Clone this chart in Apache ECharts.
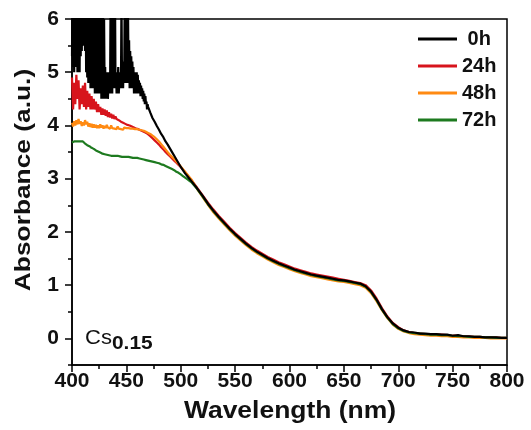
<!DOCTYPE html>
<html><head><meta charset="utf-8">
<script src="https://cdn.jsdelivr.net/npm/echarts@6/dist/echarts.min.js"></script>
<style>html,body{margin:0;padding:0;background:#fff}#c{width:531px;height:430px}</style>
</head><body><div id="c"></div>
<script>
// ---- data ----
const seriesNames = ['0h', '24h', '48h', '72h'];
const yTickLabels = [0, 1, 2, 3, 4, 5, 6];
const yMinorTicks = [-0.5, 0.5, 1.5, 2.5, 3.5, 4.5, 5.5];

const wavelengthFine = [400,401,402,403,404,405,406,407,408,409,
  410,411,412,413,414,415,416,417,418,419,
  420,421,422,423,424,425,426,427,428,429,
  430,431,432,433,434,435,436,437,438,439,
  440,441,442,443,444,445,446,447,448,449,
  450,451,452,453,454,455,456,457,458,459,
  460,461,462,463,464,465,466,467,468,469,
  470];
// the 0h spectrum is sampled every 0.5 nm in its noisy part
const wavelength0hFine = [400,400.5,401,401.5,402,402.5,403,403.5,404,404.5,
  405,405.5,406,406.5,407,407.5,408,408.5,409,409.5,
  410,410.5,411,411.5,412,412.5,413,413.5,414,414.5,
  415,415.5,416,416.5,417,417.5,418,418.5,419,419.5,
  420,420.5,421,421.5,422,422.5,423,423.5,424,424.5,
  425,425.5,426,426.5,427,427.5,428,428.5,429,429.5,
  430,430.5,431,431.5,432,432.5,433,433.5,434,434.5,
  435,435.5,436,436.5,437,437.5,438,438.5,439,439.5,
  440,440.5,441,441.5,442,442.5,443,443.5,444,444.5,
  445,445.5,446,446.5,447,447.5,448,448.5,449,449.5,
  450,450.5,451,451.5,452,452.5,453,453.5,454,454.5,
  455,455.5,456,456.5,457,457.5,458,458.5,459,459.5,
  460,460.5,461,461.5,462,462.5,463,463.5,464,464.5,
  465,465.5,466,466.5,467,467.5,468,468.5,469,469.5,
  470];
const wavelengthMid = [472,474,476,478,480,482,484,486,488,490,492,494,496,498,500,502,504,506,508,510];
const wavelengthTail = [515,520,525,530,535,540,545,550,555,560,
  565,570,575,580,585,590,595,600,605,610,
  615,620,625,630,635,640,645,650,655,660,
  665,670,675,680,685,690,695,700,705,710,
  715,720,725,730,735,740,745,750,755,760,
  765,770,775,780,785,790,795,800];

const abs0hFine = [5.3,6.8,5.1,6.5,5.0,6.9,5.2,6.4,5.1,7.0,
  5.0,6.6,5.2,6.3,5.0,6.8,5.3,6.5,5.4,6.7,
  5.5,6.4,5.6,6.2,5.4,6.6,5.0,6.7,4.9,6.3,
  4.8,6.8,4.9,6.5,4.7,6.9,4.8,6.3,4.7,6.6,
  4.9,6.4,4.6,6.7,4.7,6.3,4.6,6.8,4.8,6.2,
  4.6,6.6,4.7,6.1,4.5,6.5,4.6,6.4,4.5,6.0,
  4.6,5.1,4.5,4.9,4.6,5.0,4.5,4.8,4.7,5.0,
  4.6,6.5,4.7,6.3,4.6,6.6,4.8,6.2,4.7,6.7,
  4.7,5.0,4.6,4.9,4.7,5.1,4.6,4.8,4.8,5.0,
  4.7,6.4,4.8,5.0,4.7,5.2,4.8,6.5,4.9,6.8,
  4.8,6.7,4.9,6.2,4.8,5.6,4.7,5.4,4.8,5.3,
  4.7,5.2,4.8,5.1,4.6,5.0,4.7,4.95,4.6,5.0,
  4.7,4.95,4.6,4.85,4.65,4.8,4.55,4.75,4.6,4.7,
  4.5,4.65,4.45,4.6,4.4,4.55,4.4,4.45,4.3,4.4,
  4.35];
const abs24hFine = [4.9,4.3,4.8,4.4,4.95,4.5,4.85,4.3,4.7,4.4,
  4.75,4.35,4.8,4.3,4.65,4.35,4.6,4.3,4.55,4.3,
  4.5,4.3,4.45,4.25,4.4,4.25,4.35,4.2,4.32,4.2,
  4.3,4.18,4.28,4.16,4.25,4.15,4.22,4.13,4.2,4.12,
  4.17,4.12,4.15,4.1,4.12,4.07,4.09,4.05,4.07,4.03,
  4.05,4.01,4.03,4.0,4.01,3.98,3.99,3.96,3.97,3.94,
  3.95,3.93,3.93,3.91,3.91,3.89,3.89,3.87,3.86,3.85,
  3.84];
const abs48hFine = [4.05,3.98,4.08,4.0,4.1,4.02,4.12,4.03,4.08,3.99,
  4.06,4.0,4.1,4.02,4.07,3.98,4.04,3.97,4.03,3.96,
  4.02,3.96,4.01,3.95,4.0,3.95,4.02,3.96,4.0,3.94,
  3.99,3.95,4.01,3.96,3.99,3.94,4.0,3.95,3.98,3.94,
  3.97,3.93,3.98,3.94,3.97,3.93,3.96,3.92,3.96,3.93,
  3.95,3.92,3.95,3.92,3.94,3.92,3.94,3.93,3.93,3.92,
  3.93,3.92,3.92,3.91,3.91,3.9,3.9,3.89,3.88,3.87,
  3.86];
const abs72hFine = [3.68,3.69,3.70,3.69,3.70,3.71,3.70,3.71,3.70,3.69,
  3.70,3.68,3.66,3.65,3.63,3.62,3.61,3.59,3.58,3.57,
  3.56,3.55,3.53,3.52,3.51,3.50,3.49,3.48,3.47,3.46,
  3.46,3.45,3.45,3.44,3.44,3.44,3.43,3.44,3.43,3.43,
  3.43,3.42,3.43,3.42,3.42,3.42,3.41,3.42,3.41,3.41,
  3.41,3.40,3.41,3.40,3.40,3.40,3.39,3.40,3.39,3.39,
  3.39,3.38,3.38,3.38,3.37,3.37,3.36,3.36,3.35,3.35,
  3.34];

const abs0hMid = [4.24,4.14,4.07,3.99,3.92,3.84,3.78,3.7,3.64,3.57,3.5,3.43,3.36,3.29,3.22,3.16,3.1,3.05,3.0,2.95];
const abs24hMid = [3.8,3.76,3.72,3.68,3.64,3.59,3.55,3.5,3.46,3.42,3.38,3.34,3.3,3.26,3.22,3.17,3.12,3.07,3.02,2.97];
const abs48hMid = [3.84,3.81,3.78,3.74,3.7,3.65,3.6,3.55,3.5,3.45,3.41,3.37,3.32,3.28,3.23,3.18,3.13,3.08,3.03,2.98];
const abs72hMid = [3.33,3.32,3.31,3.3,3.29,3.27,3.26,3.24,3.22,3.2,3.18,3.16,3.13,3.11,3.08,3.05,3.02,2.99,2.96,2.93];

const abs0hTail = [2.82,2.68,2.53,2.40,2.28,2.17,2.06,1.96,1.87,1.78,
  1.70,1.63,1.57,1.51,1.46,1.41,1.37,1.33,1.29,1.26,
  1.23,1.20,1.18,1.16,1.14,1.12,1.10,1.09,1.07,1.05,
  1.03,0.98,0.88,0.73,0.55,0.40,0.28,0.20,0.15,0.12,
  0.11,0.09,0.09,0.08,0.08,0.07,0.07,0.05,0.06,0.04,
  0.04,0.03,0.03,0.02,0.02,0.02,0.01,0.01];
const abs24hTail = [2.83,2.69,2.55,2.42,2.30,2.19,2.08,1.98,1.89,1.80,
  1.72,1.65,1.59,1.53,1.48,1.43,1.39,1.35,1.31,1.28,
  1.25,1.22,1.20,1.18,1.16,1.14,1.12,1.10,1.08,1.06,
  1.04,1.0,0.9,0.75,0.57,0.41,0.29,0.21,0.15,0.12,
  0.10,0.09,0.08,0.08,0.07,0.07,0.06,0.05,0.05,0.04,
  0.04,0.03,0.03,0.02,0.02,0.02,0.01,0.01];
const abs48hTail = [2.81,2.66,2.51,2.37,2.25,2.14,2.03,1.93,1.84,1.75,
  1.67,1.60,1.54,1.48,1.43,1.38,1.34,1.30,1.26,1.23,
  1.20,1.17,1.15,1.13,1.11,1.09,1.07,1.06,1.04,1.02,
  1.0,0.95,0.85,0.70,0.53,0.38,0.26,0.18,0.13,0.10,
  0.08,0.07,0.06,0.05,0.05,0.04,0.04,0.03,0.03,0.02,
  0.02,0.01,0.01,0.01,0.0,0.0,0.0,0.0];
const abs72hTail = [2.81,2.67,2.52,2.39,2.27,2.16,2.05,1.95,1.86,1.77,
  1.69,1.62,1.56,1.50,1.45,1.40,1.36,1.32,1.28,1.25,
  1.22,1.19,1.17,1.15,1.13,1.11,1.09,1.08,1.06,1.04,
  1.02,0.97,0.87,0.72,0.54,0.39,0.27,0.19,0.14,0.11,
  0.10,0.09,0.08,0.07,0.07,0.06,0.06,0.05,0.04,0.04,
  0.03,0.03,0.03,0.02,0.02,0.01,0.01,0.01];

// ---- build ----
function pairs(wlFine, fine, mid, tail) {
  const out = [];
  wlFine.forEach((w, i) => out.push([w, fine[i]]));
  wavelengthMid.forEach((w, i) => out.push([w, mid[i]]));
  wavelengthTail.forEach((w, i) => out.push([w, tail[i]]));
  return out;
}
const seriesData = {
  '0h': pairs(wavelength0hFine, abs0hFine, abs0hMid, abs0hTail),
  '24h': pairs(wavelengthFine, abs24hFine, abs24hMid, abs24hTail),
  '48h': pairs(wavelengthFine, abs48hFine, abs48hMid, abs48hTail),
  '72h': pairs(wavelengthFine, abs72hFine, abs72hMid, abs72hTail)
};
const colors = {'0h': '#000000', '24h': '#d7141c', '48h': '#ff8a12', '72h': '#1d7a1f'};
const widths = {'0h': 2.2, '24h': 2.2, '48h': 2.2, '72h': 2.2};
const drawOrder = ['24h', '48h', '72h', '0h'];

const FONT = 'Liberation Sans, Arial, sans-serif';
const labelStyle = {fontSize: 21, fontWeight: 'bold', fontFamily: FONT, color: '#111'};

const chart = echarts.init(document.getElementById('c'), null, {renderer: 'canvas'});
chart.setOption({
  animation: false,
  backgroundColor: '#fff',
  grid: {left: 72, right: 24, top: 19, bottom: 65, show: true, borderColor: '#000', borderWidth: 1.5, backgroundColor: 'transparent'},
  legend: {
    orient: 'vertical', left: 418, top: 29, padding: 0, itemWidth: 39, itemHeight: 3, itemGap: 7,
    icon: 'rect', data: seriesNames,
    formatter: n => (n === '0h' ? ' 0h' : n),
    textStyle: {fontSize: 20, fontWeight: 'bold', fontFamily: FONT, color: '#111', lineHeight: 20}
  },
  xAxis: {
    type: 'value', min: 400, max: 800, interval: 50,
    axisLine: {show: true, onZero: false, lineStyle: {color: '#000', width: 1.5}},
    axisTick: {show: true, length: 7, lineStyle: {color: '#000', width: 1.5}},
    minorTick: {show: true, splitNumber: 2, length: 4, lineStyle: {color: '#000', width: 1.5}},
    axisLabel: Object.assign({margin: 6}, labelStyle),
    splitLine: {show: false}, minorSplitLine: {show: false}
  },
  yAxis: [{
    type: 'value', min: -0.5, max: 6, position: 'left',
    axisLine: {show: true, onZero: false, lineStyle: {color: '#000', width: 1.5}},
    axisTick: {show: true, length: 7, customValues: yTickLabels, lineStyle: {color: '#000', width: 1.5}},
    axisLabel: Object.assign({margin: 13, customValues: yTickLabels}, labelStyle),
    splitLine: {show: false}
  }, {
    type: 'value', min: -0.5, max: 6, position: 'left', offset: 0,
    axisLine: {show: false},
    axisTick: {show: true, length: 4, customValues: yMinorTicks, lineStyle: {color: '#000', width: 1.5}},
    axisLabel: {show: false},
    splitLine: {show: false}
  }],
  series: drawOrder.map(n => ({
    name: n, type: 'line', yAxisIndex: 0, data: seriesData[n], showSymbol: false, symbol: 'none',
    clip: true, color: colors[n], lineStyle: {color: colors[n], width: widths[n]}
  })),
  graphic: [
    {type: 'text', x: 290, y: 412, scaleX: 1.15,
      style: {text: 'Wavelength (nm)', fontSize: 23, fontWeight: 'bold', fontFamily: FONT, fill: '#111', align: 'center', verticalAlign: 'middle'}},
    {type: 'text', x: 24, y: 180, rotation: Math.PI / 2, scaleX: 1.17,
      style: {text: 'Absorbance (a.u.)', fontSize: 22.5, fontWeight: 'bold', fontFamily: FONT, fill: '#111', align: 'center', verticalAlign: 'middle'}},
    {type: 'text', x: 85, y: 338, scaleX: 1.1,
      style: {text: 'Cs', fontSize: 20, fontFamily: FONT, fill: '#111', align: 'left', verticalAlign: 'middle'}},
    {type: 'text', x: 112, y: 344, scaleX: 1.1,
      style: {text: '0.15', fontSize: 19, fontWeight: 'bold', fontFamily: FONT, fill: '#111', align: 'left', verticalAlign: 'middle'}}
  ]
});
</script>
</body></html>
